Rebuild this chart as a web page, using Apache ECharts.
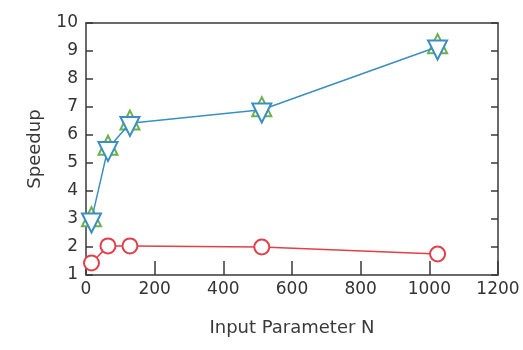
<!DOCTYPE html>
<html><head><meta charset="utf-8">
<script src="https://cdn.jsdelivr.net/npm/echarts@6/dist/echarts.min.js"></script>
<style>html,body{margin:0;padding:0;background:#fff}#c{width:523px;height:350px}</style>
</head><body><div id="c"></div>
<script>
const xValues = [16, 64, 128, 512, 1024];
const blueSpeedup = [2.97, 5.52, 6.42, 6.9, 9.15];
const greenSpeedup = [2.97, 5.52, 6.42, 6.9, 9.15];
const redSpeedup = [1.43, 2.04, 2.04, 2.0, 1.75];
const xTicks = [0, 200, 400, 600, 800, 1000, 1200];
const yTicks = [1, 2, 3, 4, 5, 6, 7, 8, 9, 10];

const pairs = ys => xValues.map((x, i) => [x, ys[i]]);
const font = 'DejaVu Sans';
const chart = echarts.init(document.getElementById('c'), null, {renderer: 'canvas'});
const axisLine = {show: true, onZero: false, lineStyle: {color: '#3a3a3a', width: 1.5}};
const yTick = {show: true, inside: true, length: 7, lineStyle: {color: '#3a3a3a', width: 1.5}};
const xTick = {show: true, inside: true, length: 14, lineStyle: {color: '#3a3a3a', width: 1.5}};
const labelStyle = {fontFamily: font, fontSize: 17, color: '#333'};
const nameStyle = {fontFamily: font, fontSize: 18, color: '#3a3a3a'};
const triSize = 19;
chart.setOption({
  animation: false,
  grid: {left: 86, right: 25, top: 23, bottom: 75, show: false, containLabel: false},
  xAxis: [{
    type: 'value', min: 0, max: 1200, interval: 200,
    name: 'Input Parameter N', nameLocation: 'middle', nameGap: 44,
    nameTextStyle: nameStyle,
    axisLine, axisTick: xTick,
    axisLabel: Object.assign({margin: 6, formatter: v => String(v)}, labelStyle),
    splitLine: {show: false}
  }, {
    type: 'value', min: 0, max: 1200, interval: 200, position: 'top',
    axisLine, axisTick: {show: false}, axisLabel: {show: false}, splitLine: {show: false}
  }],
  yAxis: [{
    type: 'value', min: 1, max: 10, interval: 1,
    name: 'Speedup', nameLocation: 'middle', nameGap: 42, nameRotate: 90,
    nameTextStyle: nameStyle,
    axisLine, axisTick: yTick,
    axisLabel: Object.assign({margin: 8}, labelStyle),
    splitLine: {show: false}
  }, {
    type: 'value', min: 1, max: 10, interval: 1, position: 'right',
    axisLine, axisTick: yTick,
    axisLabel: {show: false}, splitLine: {show: false}
  }],
  series: [{
    type: 'line', data: pairs(redSpeedup), symbol: 'circle', symbolSize: 15,
    lineStyle: {color: '#e0404a', width: 1.5},
    itemStyle: {color: '#fff', borderColor: '#e0404a', borderWidth: 2}, z: 3
  }, {
    type: 'line', data: pairs(greenSpeedup), symbol: 'triangle', symbolSize: triSize,
    symbolOffset: [0, -triSize / 6],
    lineStyle: {width: 0},
    itemStyle: {color: '#fff', borderColor: '#6ab04c', borderWidth: 2}, z: 4
  }, {
    type: 'line', data: pairs(blueSpeedup), symbol: 'triangle', symbolRotate: 180, symbolSize: triSize,
    symbolOffset: [0, triSize / 6],
    lineStyle: {color: '#3a8fc0', width: 1.5},
    itemStyle: {color: '#fff', borderColor: '#3a8fc0', borderWidth: 2}, z: 5
  }]
});
</script></body></html>
